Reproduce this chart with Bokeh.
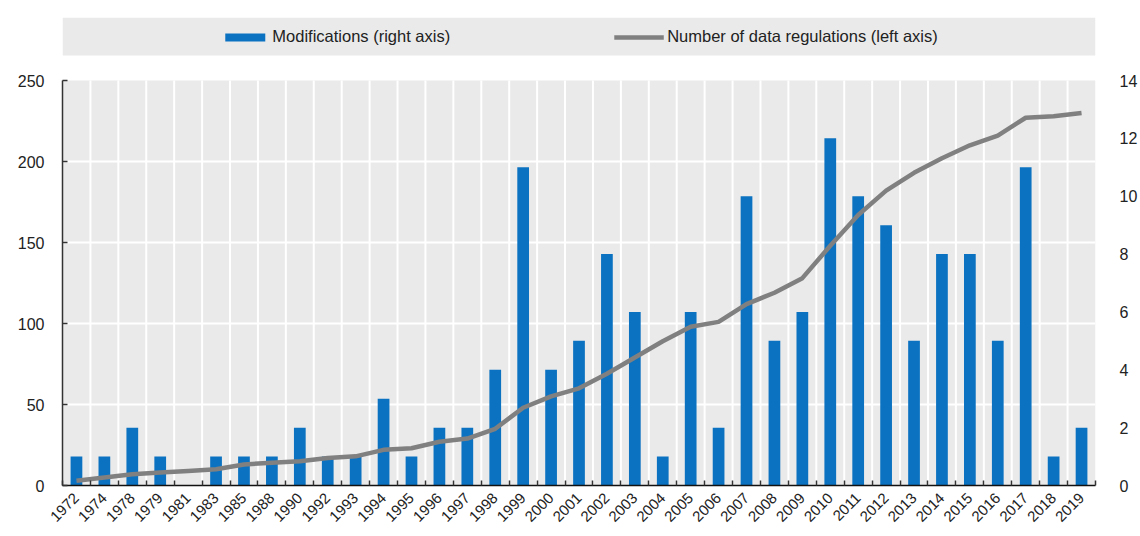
import math
import numpy as np
from bokeh.plotting import figure
from bokeh.models import Range1d, LinearAxis, FixedTicker, Legend, LegendItem
from bokeh.embed import file_html
from bokeh.resources import INLINE

# ---- data ----
years = [1972, 1974, 1978, 1979, 1981, 1983, 1985, 1988, 1990, 1992, 1993, 1994,
         1995, 1996, 1997, 1998, 1999, 2000, 2001, 2002, 2003, 2004, 2005, 2006,
         2007, 2008, 2009, 2010, 2011, 2012, 2013, 2014, 2015, 2016, 2017, 2018, 2019]
modifications = [1, 1, 2, 1, 0, 1, 1, 1, 2, 1, 1, 3,
                 1, 2, 2, 4, 11, 4, 5, 8, 6, 1, 6, 2,
                 10, 5, 6, 12, 10, 9, 5, 8, 8, 5, 11, 1, 2]
regulations = [3, 5, 7, 8, 9, 10, 13, 14, 15, 17, 18, 22,
               23, 27, 29, 35, 48, 55, 60, 69, 79, 89, 98, 101,
               112, 119, 128, 148, 167, 182, 193, 202, 210, 216, 227, 228, 230]
left_ticks = [0, 50, 100, 150, 200, 250]
right_ticks = [0, 2, 4, 6, 8, 10, 12, 14]
labels = ["Modifications (right axis)", "Number of data regulations (left axis)"]

FONT = "'Liberation Sans', Arial, sans-serif"
BLUE = "#0b72c1"
GREY_LINE = "#808080"
PANEL = "#eaeaea"
TXT = "#222222"

n = len(years)
xs = list(range(n))
edges_all = [i - 0.5 for i in range(n + 1)]
edges_inner = edges_all[1:-1]

left_max = left_ticks[-1]
right_max = right_ticks[-1]
# frame extends above the plotting panel to hold the legend band
ext = 468.0 / 405.0
y_top = left_max * ext
band_bottom = left_max * (430.0 / 405.0)

p = figure(width=1140, height=536, output_backend="svg", toolbar_location=None,
           x_range=Range1d(-0.5, n - 0.5), y_range=Range1d(0, y_top),
           min_border_left=62, min_border_right=40, min_border_top=17,
           min_border_bottom=51, background_fill_color="white",
           border_fill_color="white", outline_line_color=None)
p.extra_y_ranges = {"right": Range1d(0, right_max * ext)}
p.xgrid.visible = False
p.ygrid.visible = False

# panel backgrounds
p.quad(left=[-0.5], right=[n - 0.5], bottom=[left_ticks[0]], top=[left_max],
       fill_color=PANEL, line_color=None)
p.quad(left=[-0.5], right=[n - 0.5], bottom=[band_bottom], top=[y_top],
       fill_color=PANEL, line_color=None)

# white grid lines
p.segment(x0=edges_inner, y0=[0] * len(edges_inner), x1=edges_inner,
          y1=[left_max] * len(edges_inner), line_color="white", line_width=2)
inner_h = left_ticks[1:-1]
p.segment(x0=[-0.5] * len(inner_h), y0=inner_h, x1=[n - 0.5] * len(inner_h),
          y1=inner_h, line_color="white", line_width=2)

bars = p.vbar(x=xs, top=modifications, bottom=0, width=0.42, y_range_name="right",
              fill_color=BLUE, line_color=None)
line = p.line(xs, regulations, line_color=GREY_LINE, line_width=4.5)

# x axis
xa = p.xaxis[0]
xa.ticker = FixedTicker(ticks=xs, minor_ticks=edges_all)
xa.major_label_overrides = {i: str(y) for i, y in zip(xs, years)}
xa.major_label_orientation = math.pi / 4
xa.major_tick_line_color = None
xa.minor_tick_in = 5
xa.minor_tick_out = 0
xa.minor_tick_line_color = "#333333"
xa.minor_tick_line_width = 1.5
xa.axis_line_color = "#111111"
xa.axis_line_width = 1.5
xa.bounds = (-0.5, n - 0.5)
xa.major_label_text_font = FONT
xa.major_label_text_font_size = "15px"
xa.major_label_text_color = TXT
xa.major_label_standoff = 4

# left axis
ya = p.yaxis[0]
ya.ticker = FixedTicker(ticks=left_ticks)
ya.bounds = (0, left_max)
ya.major_tick_in = 5
ya.major_tick_out = 0
ya.minor_tick_line_color = None
ya.axis_line_color = "#333333"
ya.axis_line_width = 1.5
ya.major_tick_line_color = "#333333"
ya.major_tick_line_width = 1.5
ya.major_label_text_font = FONT
ya.major_label_text_font_size = "16px"
ya.major_label_text_color = TXT
ya.major_label_standoff = 18

# right axis
ra = LinearAxis(y_range_name="right", ticker=FixedTicker(ticks=right_ticks),
                axis_line_color=None, major_tick_line_color=None,
                minor_tick_line_color=None, major_label_standoff=18,
                major_label_text_font=FONT, major_label_text_font_size="16px",
                major_label_text_color=TXT)
p.add_layout(ra, "right")

legend = Legend(items=[LegendItem(label=labels[0], renderers=[bars]),
                       LegendItem(label=labels[1], renderers=[line])],
                orientation="horizontal", location="top_center",
                background_fill_alpha=0, border_line_color=None,
                glyph_width=50, glyph_height=10, label_standoff=3,
                spacing=164, padding=0, margin=10,
                label_text_font=FONT, label_text_font_size="16.5px",
                label_text_color=TXT)
p.add_layout(legend)

open("out.html", "w").write(file_html(p, INLINE))
